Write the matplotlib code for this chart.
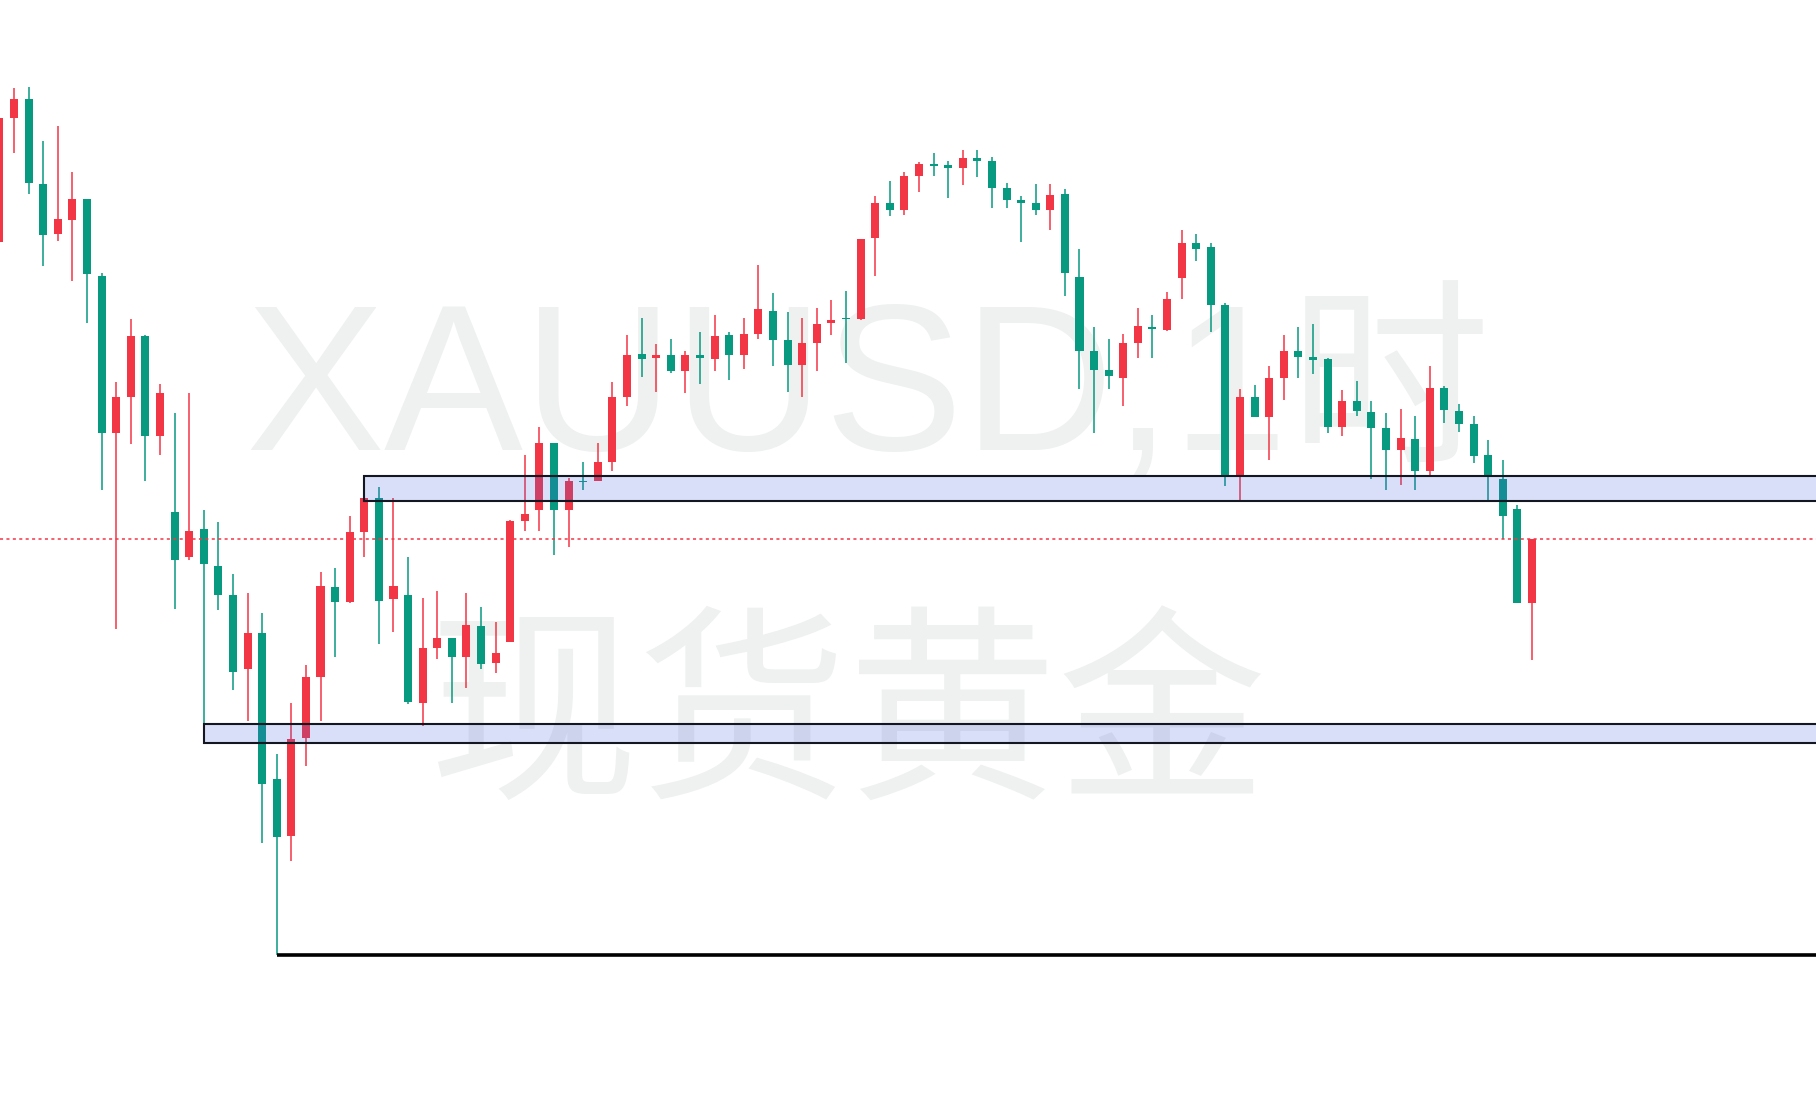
import matplotlib
matplotlib.use("Agg")
import matplotlib.pyplot as plt
from matplotlib.patches import Rectangle
import numpy as np

# ---- OHLC data (XAUUSD, 1h) ----
opens = [3365.0, 3375.75, 3377.4, 3370.05, 3365.65, 3366.85, 3368.75, 3362.05, 3348.3, 3351.45,
         3356.75, 3348.1, 3341.5, 3337.5, 3339.95, 3336.8, 3334.2, 3327.75, 3330.95, 3318.25,
         3313.25, 3321.8, 3327.05, 3334.95, 3333.65, 3339.75, 3342.65, 3333.85, 3334.25, 3324.85,
         3329.65, 3330.45, 3328.8, 3331.55, 3328.35, 3330.1, 3340.65, 3341.6, 3347.5, 3341.6,
         3344.2, 3344.2, 3345.85, 3351.5, 3355.25, 3354.9, 3355.1, 3353.7, 3355.15, 3354.8,
         3356.85, 3355.15, 3357.0, 3359.0, 3356.4, 3354.3, 3356.2, 3357.95, 3358.4, 3358.25,
         3365.3, 3368.35, 3367.75, 3370.75, 3371.8, 3371.7, 3371.45, 3372.25, 3372.05, 3369.7,
         3368.6, 3368.4, 3367.8, 3369.2, 3361.95, 3355.45, 3353.85, 3353.15, 3356.2, 3357.55,
         3357.35, 3361.8, 3364.85, 3364.5, 3359.5, 3344.6, 3351.45, 3349.75, 3353.1, 3355.5,
         3355.0, 3354.75, 3348.85, 3351.1, 3350.2, 3348.75, 3346.85, 3347.85, 3345.05, 3352.3,
         3350.3, 3349.15, 3346.4, 3344.3, 3341.75, 3333.5]
highs = [3376.1, 3378.35, 3378.45, 3373.75, 3375.1, 3371.1, 3368.75, 3362.25, 3352.75, 3358.3,
         3356.85, 3352.65, 3350.05, 3351.85, 3341.65, 3340.55, 3336.1, 3334.45, 3332.7, 3320.35,
         3324.85, 3328.1, 3336.25, 3336.55, 3341.15, 3342.65, 3343.65, 3342.65, 3337.5, 3334.0,
         3334.55, 3330.45, 3334.45, 3333.15, 3331.85, 3340.8, 3346.4, 3348.9, 3347.5, 3344.4,
         3345.85, 3347.5, 3352.8, 3356.85, 3358.4, 3356.05, 3356.5, 3355.45, 3357.1, 3358.65,
         3357.1, 3358.4, 3363.0, 3360.55, 3358.9, 3358.4, 3359.2, 3359.95, 3360.75, 3365.2,
         3369.0, 3370.25, 3371.1, 3371.95, 3372.75, 3372.05, 3372.95, 3372.95, 3372.4, 3370.15,
         3369.0, 3370.05, 3370.05, 3369.55, 3364.4, 3357.55, 3356.5, 3357.0, 3359.25, 3358.65,
         3360.65, 3366.05, 3365.7, 3364.85, 3359.7, 3352.2, 3352.55, 3354.15, 3356.9, 3357.6,
         3357.85, 3354.9, 3352.05, 3352.9, 3351.15, 3350.1, 3350.4, 3349.85, 3354.15, 3352.45,
         3350.9, 3349.85, 3347.7, 3345.95, 3342.1, 3339.15]
lows = [3363.75, 3372.75, 3369.15, 3362.85, 3365.1, 3361.6, 3357.95, 3343.35, 3331.3, 3347.35,
        3344.2, 3346.45, 3333.05, 3337.25, 3321.5, 3332.95, 3326.0, 3323.3, 3312.6, 3302.85,
        3311.1, 3319.3, 3323.3, 3328.8, 3333.5, 3337.5, 3330.0, 3331.05, 3324.7, 3322.85,
        3328.7, 3324.85, 3326.1, 3327.8, 3327.4, 3330.1, 3339.85, 3339.85, 3337.75, 3338.4,
        3343.4, 3344.2, 3345.0, 3350.65, 3353.25, 3351.95, 3353.6, 3351.8, 3352.65, 3353.7,
        3353.0, 3353.95, 3356.5, 3354.2, 3351.95, 3351.5, 3353.7, 3356.9, 3354.4, 3358.15,
        3362.05, 3367.2, 3367.3, 3369.35, 3370.7, 3368.85, 3369.9, 3370.6, 3367.9, 3367.9,
        3365.0, 3367.35, 3366.05, 3360.25, 3352.2, 3348.3, 3352.2, 3350.65, 3354.9, 3354.9,
        3357.25, 3360.05, 3363.35, 3357.1, 3343.75, 3342.4, 3349.7, 3345.95, 3351.25, 3353.1,
        3353.5, 3348.3, 3348.1, 3349.85, 3344.35, 3343.4, 3343.85, 3343.35, 3344.6, 3349.25,
        3348.45, 3345.7, 3342.5, 3339.15, 3333.5, 3328.6]
closes = [3375.75, 3377.4, 3370.15, 3365.55, 3366.95, 3368.75, 3362.15, 3348.3, 3351.45, 3356.75,
          3348.1, 3351.8, 3337.3, 3339.85, 3336.9, 3334.2, 3327.55, 3330.95, 3317.8, 3313.2,
          3321.65, 3327.05, 3335.05, 3333.65, 3339.75, 3342.65, 3333.75, 3335.05, 3324.95, 3329.65,
          3330.45, 3328.8, 3331.65, 3328.25, 3329.15, 3340.65, 3341.25, 3347.5, 3341.6, 3344.2,
          3344.05, 3345.85, 3351.5, 3355.15, 3354.8, 3355.15, 3353.7, 3355.15, 3354.9, 3356.75,
          3355.15, 3357.0, 3359.1, 3356.4, 3354.3, 3356.2, 3357.85, 3358.15, 3358.25, 3365.2,
          3368.35, 3367.75, 3370.75, 3371.8, 3371.6, 3371.45, 3372.25, 3372.05, 3369.7, 3368.6,
          3368.4, 3367.8, 3369.1, 3362.25, 3355.5, 3353.85, 3353.3, 3356.2, 3357.7, 3357.4,
          3360.05, 3364.85, 3364.4, 3359.45, 3344.6, 3351.45, 3349.75, 3353.1, 3355.5, 3355.0,
          3354.7, 3348.85, 3351.1, 3350.25, 3348.75, 3346.85, 3347.95, 3345.05, 3352.3, 3350.35,
          3349.15, 3346.35, 3344.6, 3341.15, 3333.5, 3339.15]

# zones / levels
upper_zone = (3342.45, 3344.6)     # price range
upper_zone_start = 25              # bar index
lower_zone = (3321.35, 3323.0)
lower_zone_start = 14
low_level = 3302.85
low_level_start = 19
last_price = 3339.15

# watermark: "XAUUSD,1时" / "现货黄金"
wm_symbol = "XAUUSD,1"
wm_unit = "时"
wm_name = "现货黄金"

UP = "#f23645"     # red = rising
DOWN = "#089981"   # green = falling
WM = "#eff0f0"

W, H = 1816, 1104
fig = plt.figure(figsize=(W / 100, H / 100), dpi=100)
ax = fig.add_axes([0, 0, 1, 1])
ax.axis("off")

n = len(opens)
x = np.arange(n)
o = np.array(opens); h = np.array(highs); l = np.array(lows); c = np.array(closes)
up = c >= o
cols = np.where(up, UP, DOWN)

# ---- watermark (behind everything) ----
base_y = 1 - 449 / H
t1 = ax.text(245 / W, base_y, wm_symbol, transform=ax.transAxes, ha="left", va="baseline",
             fontsize=150, color=WM, family=["Liberation Sans"], zorder=0.5)
renderer = fig.canvas.get_renderer()
bb1 = t1.get_window_extent(renderer)
# the unit glyph follows right after the symbol text
ax.text((bb1.x1 + 1) / W, base_y, wm_unit, transform=ax.transAxes, ha="left",
        va="baseline", fontsize=145, color=WM, family=["Noto Sans CJK SC"], zorder=0.5)

ax.text(848 / W, 1 - 784 / H, wm_name, transform=ax.transAxes, ha="center", va="baseline",
        fontsize=151, color=WM, family=["Noto Sans CJK SC"], zorder=0.5)

# ---- candles ----
ax.vlines(x, l, h, colors=cols, linewidth=1.1, zorder=2)
bottoms = np.minimum(o, c)
heights = np.maximum(np.abs(c - o), 0.15)
ax.bar(x, heights, bottom=bottoms, width=0.55, color=cols, linewidth=0, zorder=2.1)

xmax = 130
# last price dotted line
ax.axhline(last_price, color=UP, linewidth=1.1, linestyle=(0, (2, 2.2)), zorder=2.5)

# zones
zone_face = (70 / 255, 95 / 255, 225 / 255, 0.2)
for (lo, hi), start in [(upper_zone, upper_zone_start), (lower_zone, lower_zone_start)]:
    ax.add_patch(Rectangle((start, lo), xmax - start, hi - lo, facecolor=zone_face,
                           edgecolor="#131722", linewidth=1.5, zorder=3))

# lowest-low level line
ax.hlines(low_level, low_level_start, xmax, colors="black", linewidth=2.6, zorder=3)

ax.set_xlim(0.0408, 124.46)
ax.set_ylim(3289.903, 3386.053)

fig.savefig("out.png", dpi=100, facecolor="white")
